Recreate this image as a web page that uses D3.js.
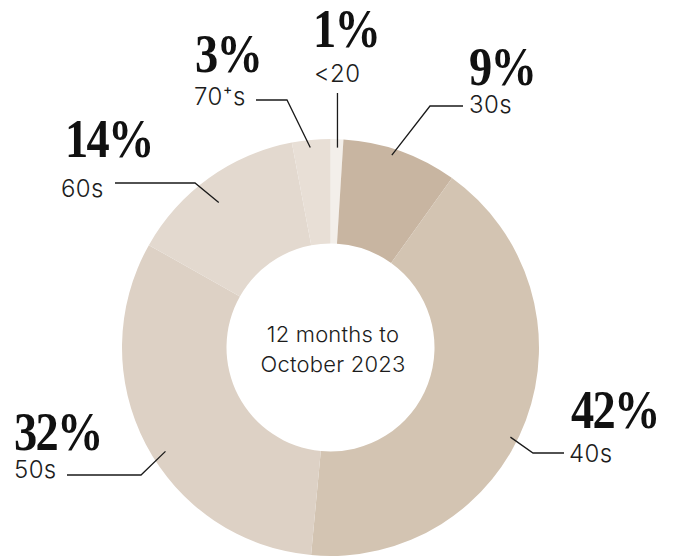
<!DOCTYPE html>
<html>
<head>
<meta charset="utf-8">
<script src="https://cdn.jsdelivr.net/npm/d3@7/dist/d3.min.js"></script>
<style>
  html, body { margin: 0; padding: 0; background: #ffffff; }
  svg { display: block; }
</style>
</head>
<body>
<div id="chart"></div>
<script>
// Age bands, clockwise from 12 o'clock
const ageBands = ["<20", "30s", "40s", "50s", "60s", "70\u207As"];
const shares = [1, 9, 42, 32, 14, 3];
const sliceColors = ["#f3efea", "#c8b5a1", "#d3c4b2", "#ddd1c5", "#e3d9cf", "#e8dfd6"];
const centerLines = ["12 months to", "October 2023"];

const width = 684, height = 558;
const cx = 330.5, cy = 347.5;
const outerR = 208.5, innerR = 104;

// Label placement: where the callout text sits, the elbow of its leader,
// and how far along the slice (t) / at what radius (r) the leader ends.
const callouts = [
  { pct: [313, 47], sub: [314, 82], t: 0.56, r: 200, path: ex => [[ex[0], 93], ex] },
  { pct: [469, 85], sub: [469, 113], t: 0.44, r: 202, path: ex => [[463, 106], [430, 106], ex] },
  { pct: [571, 428], sub: [569, 462], t: 0.54, r: 201, path: ex => [ex, [533, 453], [564, 453]] },
  { pct: [14, 450], sub: [14, 478], t: 0.46, r: 195, path: ex => [[67, 475], [141, 475], ex] },
  { pct: [65, 157], sub: [61, 197], t: 0.46, r: 183, path: ex => [[115, 183], [195, 183], ex] },
  { pct: [195, 72], sub: [194, 105], t: 0.46, r: 201, path: ex => [[256, 100], [287, 100], ex] }
];

const svg = d3.select("#chart").append("svg")
  .attr("width", width).attr("height", height);

const pie = d3.pie().sort(null).value(d => d)
  .startAngle(0).endAngle(2 * Math.PI);
const arcs = pie(shares);

const arc = d3.arc().innerRadius(innerR).outerRadius(outerR);

const ring = svg.append("g").attr("transform", `translate(${cx},${cy})`);
ring.selectAll("path.slice")
  .data(arcs)
  .join("path")
  .attr("class", "slice")
  .attr("d", arc)
  .attr("fill", (d, i) => sliceColors[i]);

// Centre caption
const caption = svg.append("text")
  .attr("x", cx + 2.5).attr("y", 342)
  .attr("text-anchor", "middle")
  .style("font-family", "Inter, 'Liberation Sans', sans-serif")
  .style("font-weight", 300)
  .style("font-size", "22px")
  .style("letter-spacing", "0.2px")
  .attr("fill", "#1c1c1c");
caption.selectAll("tspan")
  .data(centerLines)
  .join("tspan")
  .attr("x", cx + 2.5)
  .attr("dy", (d, i) => i === 0 ? 0 : 30)
  .text(d => d);

// Leader lines
const line = d3.line();
arcs.forEach((d, i) => {
  const c = callouts[i];
  const a = d.startAngle + c.t * (d.endAngle - d.startAngle);
  const end = [cx + c.r * Math.sin(a), cy - c.r * Math.cos(a)];
  svg.append("path")
    .attr("d", line(c.path(end)))
    .attr("fill", "none")
    .attr("stroke", "#1a1a1a")
    .attr("stroke-width", 1.3);
});

// Percentages and age band names
const labels = svg.append("g");
arcs.forEach((d, i) => {
  const c = callouts[i];
  labels.append("text")
    .attr("transform", `translate(${c.pct[0]},${c.pct[1]}) scale(0.86,1)`)
    .style("font-family", "'Liberation Serif', 'Times New Roman', serif")
    .style("font-weight", 700)
    .style("font-size", "54px")
    .style("letter-spacing", "-2px")
    .attr("fill", "#111111")
    .text(shares[i] + "%");
  labels.append("text")
    .attr("x", c.sub[0]).attr("y", c.sub[1])
    .style("font-family", "Inter, 'Liberation Sans', sans-serif")
    .style("font-weight", 300)
    .style("font-size", "24px")
    .style("letter-spacing", "0.4px")
    .attr("fill", "#1c1c1c")
    .text(ageBands[i]);
});
</script>
</body>
</html>
